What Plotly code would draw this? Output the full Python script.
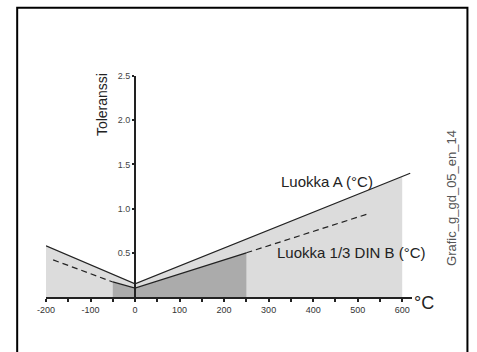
import plotly.graph_objects as go

# ---- data ----
temp_a = [-200, 0, 618]          # Luokka A line
tol_a = [0.58, 0.15, 1.40]
fill_a_temp = [-200, 0, 600]     # light area under class A
fill_a_tol = [0.58, 0.15, 1.36]

temp_b_solid = [-50, 0, 250]     # Luokka 1/3 DIN B, solid part
tol_b_solid = [0.17, 0.10, 0.50]
temp_b_dash_left = [-184, -50]
tol_b_dash_left = [0.42, 0.17]
temp_b_dash_right = [250, 523]
tol_b_dash_right = [0.50, 0.94]

x_ticks = [-200, -100, 0, 100, 200, 300, 400, 500, 600]
x_ticktext = ["-200", "-100", "0", "100", "200", "300", "400", "500", "600"]
y_ticks = [0.5, 1.0, 1.5, 2.0, 2.5]
y_ticktext = ["0.5", "1.0", "1.5", "2.0", "2.5"]

# ---- layout geometry (pixels) ----
W, H = 477, 352
L, R, T, B = 45.8, 411.6, 75.5, 297.4
XMIN, XMAX = -200, 622
YMIN, YMAX = 0, 2.5


def px_to_paper_x(px):
    return (px - L) / (R - L)


def px_to_paper_y(py):
    return (B - py) / (B - T)


FONT = "Liberation Sans, Arial, sans-serif"
LINE = "#222222"
LIGHT = "#dcdcdc"
DARK = "#ababab"

fig = go.Figure()

fig.add_trace(go.Scatter(x=fill_a_temp, y=fill_a_tol, mode="lines",
                         line=dict(width=0), fill="tozeroy",
                         fillcolor=LIGHT, hoverinfo="skip"))
fig.add_trace(go.Scatter(x=temp_b_solid, y=tol_b_solid, mode="lines",
                         line=dict(width=0), fill="tozeroy",
                         fillcolor=DARK, hoverinfo="skip"))
fig.add_trace(go.Scatter(x=temp_a, y=tol_a, mode="lines",
                         line=dict(color=LINE, width=1.3)))
fig.add_trace(go.Scatter(x=temp_b_solid, y=tol_b_solid, mode="lines",
                         line=dict(color=LINE, width=1.3)))
fig.add_trace(go.Scatter(x=temp_b_dash_left, y=tol_b_dash_left, mode="lines",
                         line=dict(color=LINE, width=1.2, dash="6px,4px")))
fig.add_trace(go.Scatter(x=temp_b_dash_right, y=tol_b_dash_right, mode="lines",
                         line=dict(color=LINE, width=1.2, dash="6px,4px")))

fig.update_layout(
    width=W, height=H, autosize=False,
    margin=dict(l=L, r=W - R, t=T, b=H - B, pad=0),
    paper_bgcolor="white", plot_bgcolor="white",
    showlegend=False,
    font=dict(family=FONT, color="#333333"),
    xaxis=dict(range=[XMIN, XMAX], showgrid=False, zeroline=False,
               showline=True, linewidth=2, linecolor=LINE,
               tickmode="array", tickvals=x_ticks, ticktext=x_ticktext,
               ticks="outside", ticklen=3, tickwidth=1.5, tickcolor=LINE,
               tickfont=dict(size=9, color="#333333"),
               minor=dict(dtick=50, ticks="outside", ticklen=3,
                          tickwidth=1.5, tickcolor=LINE)),
    yaxis=dict(range=[YMIN, YMAX], showgrid=False, zeroline=False,
               anchor="free", position=(0 - XMIN) / (XMAX - XMIN),
               showline=True, linewidth=2, linecolor=LINE,
               tickmode="array", tickvals=y_ticks, ticktext=y_ticktext,
               ticks="outside", ticklen=2, tickwidth=1.5, tickcolor=LINE,
               tickfont=dict(size=9, color="#444444")),
)

# text labels, positioned in pixels of the picture
annots = [
    dict(text="Luokka A (°C)", px=327, py=181.5, size=15, angle=0, color="#222222"),
    dict(text="Luokka 1/3 DIN B (°C)", px=351, py=252.4, size=15, angle=0, color="#222222"),
    dict(text="°C", px=423.5, py=303, size=18, angle=0, color="#222222"),
    dict(text="Toleranssi", px=102, py=104.5, size=14, angle=-90, color="#222222"),
    dict(text="Grafic_g_gd_05_en_14", px=450.5, py=198, size=13, angle=-90, color="#555555"),
]
for a in annots:
    fig.add_annotation(text=a["text"], x=px_to_paper_x(a["px"]),
                       y=px_to_paper_y(a["py"]), xref="paper", yref="paper",
                       showarrow=False, textangle=a["angle"],
                       xanchor="center", yanchor="middle",
                       font=dict(size=a["size"], color=a["color"], family=FONT))

# frame around the figure (bottom edge falls outside the picture)
fig.add_shape(type="rect", xref="paper", yref="paper",
              x0=px_to_paper_x(17), x1=px_to_paper_x(467),
              y0=px_to_paper_y(365), y1=px_to_paper_y(7),
              line=dict(color="black", width=2), fillcolor="rgba(0,0,0,0)",
              layer="above")

fig.write_html("out.html", config={"displayModeBar": False},
               post_script="document.body.style.margin='0px';document.body.style.overflow='hidden';")
